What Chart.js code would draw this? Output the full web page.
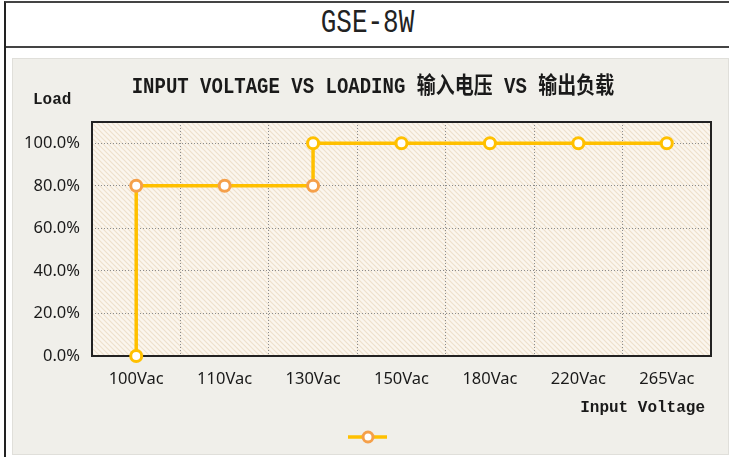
<!DOCTYPE html>
<html>
<head>
<meta charset="utf-8">
<script src="https://cdn.jsdelivr.net/npm/chart.js@4"></script>
<style>
    body { margin: 0; background: #fff; width: 729px; height: 457px; overflow: hidden; position: relative; }
    #frame { position: absolute; left: 4px; top: 1px; width: 760px; height: 480px; border-left: 2px solid #222; border-top: 2px solid #444; }
    #head { position: absolute; left: 6px; top: 3px; width: 723px; height: 43px; border-bottom: 2px solid #444; }
    #head span { position: absolute; left: 0; right: 0; top: 5px; text-align: center; font: 26px "Liberation Mono", monospace;
                 color: #222; transform: scaleY(1.3); }
    #panel { position: absolute; left: 12px; top: 58px; width: 715px; height: 395px; background: #f0efea; border: 1px solid #e0dfda; }
    canvas { position: absolute; left: 0; top: 0; }
</style>
</head>
<body>
<div id="frame"></div>
<div id="head"><span>GSE-8W</span></div>
<div id="panel"><canvas id="myChart" width="715" height="395"></canvas></div>
<script>
// categorias do eixo X
const categorias = ['100Vac', '110Vac', '130Vac', '150Vac', '180Vac', '220Vac', '265Vac'];
// pontos da curva (tensão, carga)
const pontoTensao = ['100Vac', '100Vac', '110Vac', '130Vac', '130Vac', '150Vac', '180Vac', '220Vac', '265Vac'];
const pontoCarga = [0, 80, 80, 80, 100, 100, 100, 100, 100];
const ticksY = [0, 20, 40, 60, 80, 100];

const titulo = 'INPUT VOLTAGE VS LOADING 输入电压 VS 输出负载';
const tituloY = 'Load';
const tituloX = 'Input Voltage';

const amarelo = '#ffc000';
const laranja = '#f5a04a';
const corMarcador = [amarelo, laranja, laranja, laranja, amarelo, amarelo, amarelo, amarelo, amarelo];

// fundo hachurado da área do gráfico
function criarHachura(ctx) {
    const c = document.createElement('canvas');
    c.width = 5; c.height = 5;
    const g = c.getContext('2d');
    g.fillStyle = '#fbf6ee';
    g.fillRect(0, 0, 5, 5);
    g.strokeStyle = '#eee0cc';
    g.lineWidth = 1.2;
    g.beginPath();
    g.moveTo(-1, -1); g.lineTo(6, 6);
    g.moveTo(-1, 4); g.lineTo(1, 6);
    g.moveTo(4, -1); g.lineTo(6, 1);
    g.stroke();
    return ctx.createPattern(c, 'repeat');
}

const fundo = {
    id: 'fundo',
    beforeDraw(chart) {
        const { ctx, chartArea: a } = chart;
        ctx.save();
        ctx.fillStyle = criarHachura(ctx);
        ctx.fillRect(a.left, a.top, a.right - a.left, a.bottom - a.top);
        ctx.restore();
    },
    beforeDatasetsDraw(chart) {
        const { ctx, chartArea: a } = chart;
        ctx.save();
        ctx.strokeStyle = '#222';
        ctx.lineWidth = 2;
        ctx.strokeRect(a.left, a.top, a.right - a.left, a.bottom - a.top);
        ctx.restore();
    }
};

const textos = {
    id: 'textos',
    afterDraw(chart) {
        const ctx = chart.ctx;
        ctx.save();
        ctx.fillStyle = '#1a1a1a';
        ctx.textBaseline = 'middle';
        // título um pouco esticado na vertical, como no original
        ctx.save();
        ctx.translate(360, 28);
        ctx.scale(1, 1.2);
        ctx.font = 'bold 19px "Liberation Mono", "Noto Sans CJK SC", monospace';
        ctx.textAlign = 'center';
        ctx.fillText(titulo, 0, 0);
        ctx.restore();

        ctx.font = 'bold 16px "Liberation Mono", monospace';
        ctx.textAlign = 'left';
        ctx.fillText(tituloY, 20, 41);
        ctx.textAlign = 'right';
        ctx.fillText(tituloX, 692, 349);

        // legenda
        ctx.strokeStyle = amarelo;
        ctx.lineWidth = 3.5;
        ctx.beginPath();
        ctx.moveTo(335, 378); ctx.lineTo(374, 378);
        ctx.stroke();
        ctx.fillStyle = '#fff';
        ctx.strokeStyle = laranja;
        ctx.lineWidth = 3;
        ctx.beginPath();
        ctx.arc(355, 378, 5, 0, Math.PI * 2);
        ctx.fill();
        ctx.stroke();
        ctx.restore();
    }
};

const dados = {
    labels: categorias,
    datasets: [{
        label: '',
        data: pontoTensao.map((v, i) => ({ x: v, y: pontoCarga[i] })),
        borderColor: amarelo,
        borderWidth: 3.5,
        pointRadius: 5.5,
        pointBorderWidth: 3,
        pointBackgroundColor: '#fff',
        pointBorderColor: corMarcador,
        tension: 0,
        clip: false
    }]
};

const config = {
    type: 'line',
    data: dados,
    plugins: [fundo, textos],
    options: {
        responsive: false,
        animation: false,
        layout: { padding: { top: 63, right: 17, left: 0, bottom: 0 } },
        plugins: {
            legend: { display: false },
            tooltip: { enabled: false }
        },
        scales: {
            x: {
                type: 'category',
                offset: true,
                grid: { offset: true, color: '#8c8c8c', drawTicks: false },
                border: { display: false, dash: [1, 2] },
                ticks: { padding: 13, color: '#1a1a1a', font: { family: 'Noto Sans', size: 16.5 }, maxRotation: 0 },
                afterFit(scale) { scale.height = 98; }
            },
            y: {
                min: 0,
                max: 110,
                grid: { color: '#8c8c8c', drawTicks: false },
                border: { display: false, dash: [1, 2] },
                afterBuildTicks(scale) { scale.ticks = ticksY.map(v => ({ value: v })); },
                ticks: {
                    padding: 12,
                    color: '#1a1a1a',
                    font: { family: 'Noto Sans', size: 16.5 },
                    callback: v => v.toFixed(1) + '%'
                },
                afterFit(scale) { scale.width = 79; }
            }
        }
    }
};

const ctx = document.getElementById('myChart');
myChart = new Chart(ctx, config);
</script>
</body>
</html>
